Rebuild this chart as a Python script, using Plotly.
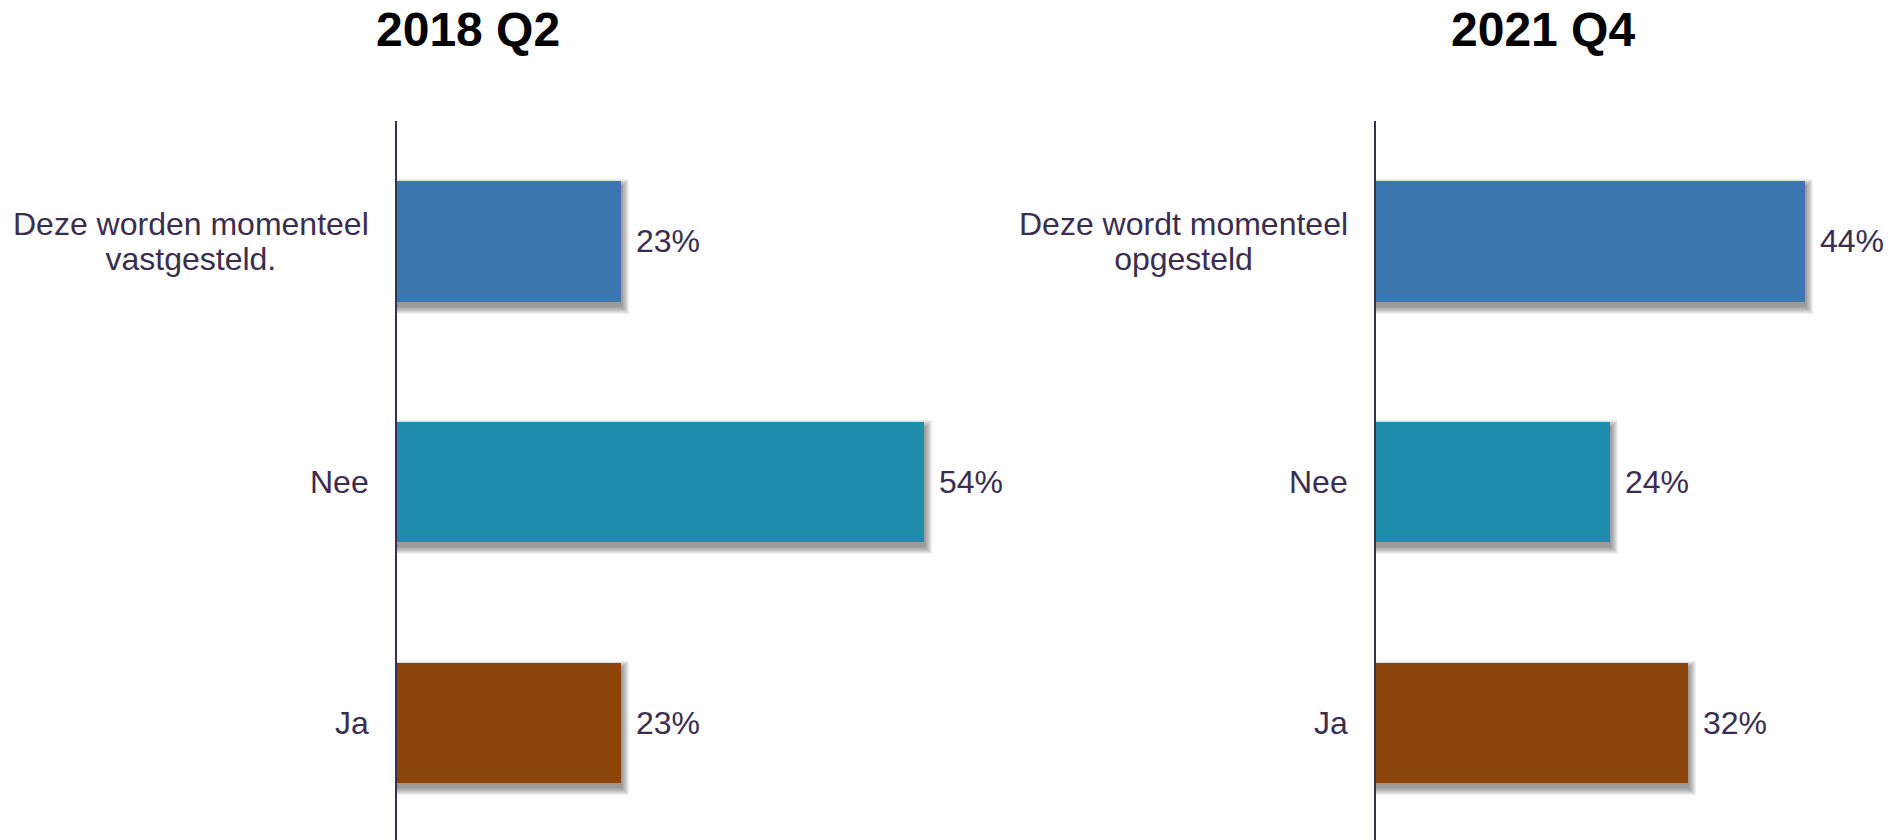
import plotly.graph_objects as go

# ---- data ----
titles = ["2018 Q2", "2021 Q4"]
cats_2018 = ["Deze worden momenteel<br>vastgesteld.", "Nee", "Ja"]
vals_2018 = [23, 54, 23]
cats_2021 = ["Deze wordt momenteel<br>opgesteld", "Nee", "Ja"]
vals_2021 = [44, 24, 32]
bar_colors = ["#3C76AE", "#1F8EAD", "#8B4409"]

W, H = 1893, 840
PXU = 9.75  # pixels per percent
FONT = "Liberation Sans, Arial, sans-serif"
TXT = "#3A2D50"

fig = go.Figure()

panels = [
    (cats_2018, vals_2018, "x", "y", 397, 1000),
    (cats_2021, vals_2021, "x2", "y2", 1376, 1893),
]

BAND = 241.0
BW = 0.5
annotations = []
for cats, vals, xa, ya, x0, x1 in panels:
    # soft drop shadow layers
    for s in [7, 6, 5, 4, 3, 2, 1, 0]:
        fig.add_trace(go.Bar(
            y=cats, x=[v + (1 + s) / PXU for v in vals], orientation="h",
            xaxis=xa, yaxis=ya, base=0,
            width=BW + 2 * s / BAND, offset=-BW / 2 + 5 / BAND - s / BAND,
            marker=dict(color="rgba(0,0,0,0.06)", line=dict(width=0)),
            hoverinfo="skip", showlegend=False,
        ))
    fig.add_trace(go.Bar(
        y=cats, x=vals, orientation="h", xaxis=xa, yaxis=ya,
        width=BW, offset=-BW / 2,
        marker=dict(color=bar_colors, line=dict(width=0)),
        showlegend=False,
    ))
    for c, v in zip(cats, vals):
        annotations.append(dict(
            x=0, y=c, xref=xa, yref=ya,
            text=f'<span style="font-size:32px">{c}</span>',
            showarrow=False, xanchor="right", yanchor="middle",
            xshift=-26, align="center",
            font=dict(family=FONT, size=27, color=TXT),
        ))
        annotations.append(dict(
            x=v, y=c, xref=xa, yref=ya, text=f"{v}%", showarrow=False,
            xanchor="left", yanchor="middle", xshift=13,
            font=dict(family=FONT, size=32, color=TXT),
        ))

for t, cx in zip(titles, [468, 1543]):
    annotations.append(dict(
        x=cx / W, y=1 - 30 / H, xref="paper", yref="paper", text=f"<b>{t}</b>",
        showarrow=False, xanchor="center", yanchor="middle",
        font=dict(family=FONT, size=48, color="#000000"),
    ))

ytop = 121
ydom = [0, (H - ytop) / H]
yrange = [2 + (H - 723) / BAND, -0.5]


def xax(x0, x1):
    return dict(domain=[x0 / W, x1 / W], range=[0, (x1 - x0) / PXU],
                showgrid=False, zeroline=False, showticklabels=False,
                showline=False, fixedrange=True)


def yax(cats, anchor):
    return dict(domain=ydom, type="category", categoryorder="array",
                categoryarray=cats, range=yrange, anchor=anchor,
                showgrid=False, zeroline=False, showticklabels=False,
                showline=True, linecolor="#3B2E52", linewidth=2,
                ticks="", fixedrange=True)


fig.update_layout(
    width=W, height=H,
    margin=dict(l=0, r=0, t=0, b=0),
    paper_bgcolor="white", plot_bgcolor="white",
    barmode="overlay", bargap=0,
    xaxis=xax(397, 1000), xaxis2=xax(1376, 1893),
    yaxis=yax(cats_2018, "x"), yaxis2=yax(cats_2021, "x2"),
    annotations=annotations,
    font=dict(family=FONT, color=TXT),
    hovermode=False,
)
for tr in fig.data:
    tr.cliponaxis = False

fig.write_html(
    "out.html",
    config={"displayModeBar": False},
    post_script="document.body.style.margin='0';document.body.style.padding='0';",
)
